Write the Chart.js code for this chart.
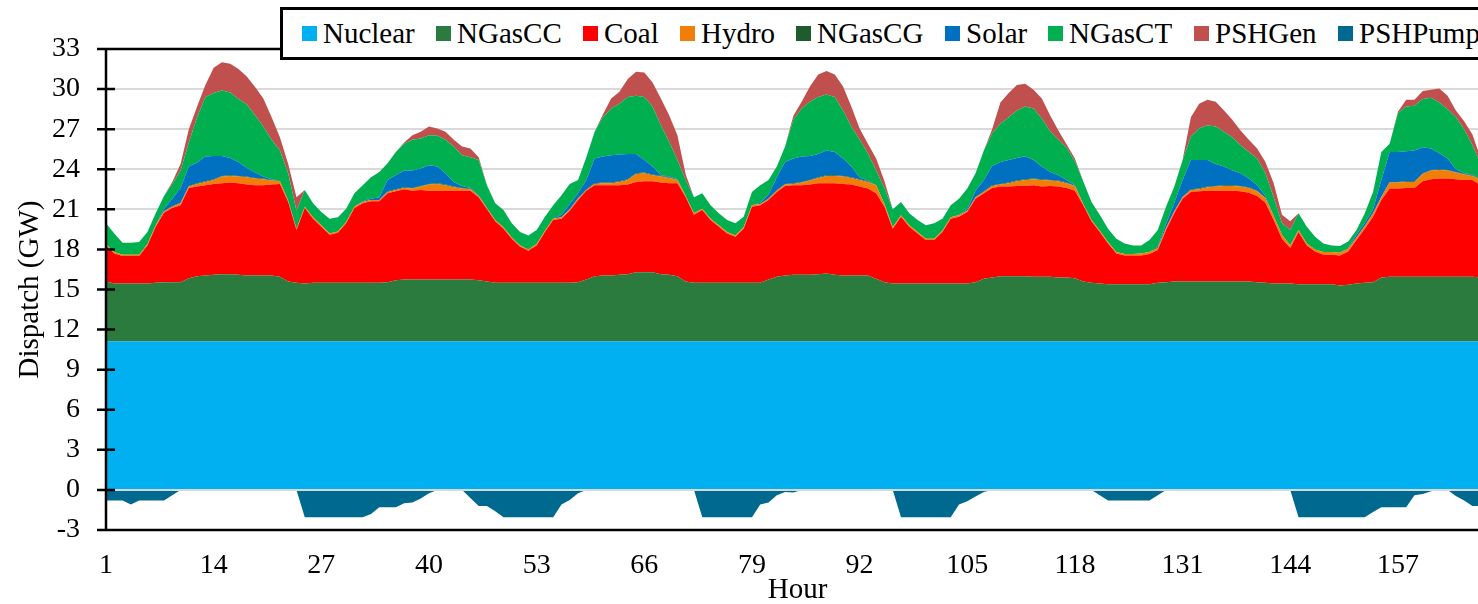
<!DOCTYPE html>
<html>
<head>
<meta charset="utf-8">
<title>Hourly dispatch</title>
<script src="https://cdn.jsdelivr.net/npm/chart.js@4.4.1/dist/chart.umd.min.js"></script>
<style>
  html, body { margin: 0; padding: 0; background: #fff; overflow: hidden; }
  #wrap { position: relative; width: 1500px; height: 620px; }
  #legend { position: absolute; left: 280px; top: 7px; width: 1300px; height: 47px;
            border: 3px solid #000; background: #fff; }
  .item { position: absolute; top: 0; height: 100%; white-space: nowrap;
          font: 29px 'Liberation Serif', 'Times New Roman', serif; color: #000; }
  .swatch { position: absolute; left: 0; top: 16px; width: 15px; height: 15px; }
  .label { position: absolute; left: 21px; top: 9px; line-height: 29px; }
</style>
</head>
<body>
<div id="wrap">
  <canvas id="chart" width="1500" height="620"></canvas>
  <div id="legend"></div>
</div>
<script>
// hour categories and the x tick labels that are shown
const hours = Array.from({length: 168}, (_, i) => i + 1);
const tickHours = [1, 14, 27, 40, 53, 66, 79, 92, 105, 118, 131, 144, 157];

// dispatch in GW, one row per day (24 h)
const nuclear = [
  11.1,11.1,11.1,11.1,11.1,11.1,11.1,11.1,11.1,11.1,11.1,11.1,11.1,11.1,11.1,11.1,11.1,11.1,11.1,11.1,11.1,11.1,11.1,11.1,
  11.1,11.1,11.1,11.1,11.1,11.1,11.1,11.1,11.1,11.1,11.1,11.1,11.1,11.1,11.1,11.1,11.1,11.1,11.1,11.1,11.1,11.1,11.1,11.1,
  11.1,11.1,11.1,11.1,11.1,11.1,11.1,11.1,11.1,11.1,11.1,11.1,11.1,11.1,11.1,11.1,11.1,11.1,11.1,11.1,11.1,11.1,11.1,11.1,
  11.1,11.1,11.1,11.1,11.1,11.1,11.1,11.1,11.1,11.1,11.1,11.1,11.1,11.1,11.1,11.1,11.1,11.1,11.1,11.1,11.1,11.1,11.1,11.1,
  11.1,11.1,11.1,11.1,11.1,11.1,11.1,11.1,11.1,11.1,11.1,11.1,11.1,11.1,11.1,11.1,11.1,11.1,11.1,11.1,11.1,11.1,11.1,11.1,
  11.1,11.1,11.1,11.1,11.1,11.1,11.1,11.1,11.1,11.1,11.1,11.1,11.1,11.1,11.1,11.1,11.1,11.1,11.1,11.1,11.1,11.1,11.1,11.1,
  11.1,11.1,11.1,11.1,11.1,11.1,11.1,11.1,11.1,11.1,11.1,11.1,11.1,11.1,11.1,11.1,11.1,11.1,11.1,11.1,11.1,11.1,11.1,11.1
];
const ngasCC = [
  4.5,4.35,4.35,4.35,4.35,4.35,4.4,4.45,4.45,4.45,4.75,4.9,4.95,5.0,5.05,5.05,5.0,4.95,4.95,4.95,4.95,4.85,4.5,4.4,
  4.35,4.4,4.4,4.4,4.4,4.4,4.4,4.4,4.4,4.4,4.45,4.6,4.65,4.65,4.65,4.65,4.65,4.65,4.65,4.65,4.65,4.6,4.5,4.4,
  4.4,4.4,4.4,4.4,4.4,4.4,4.4,4.4,4.4,4.45,4.65,4.9,4.95,4.95,5.0,5.05,5.2,5.2,5.2,5.05,5.0,4.9,4.5,4.4,
  4.4,4.4,4.4,4.4,4.4,4.4,4.4,4.4,4.65,4.85,4.95,5.0,5.0,5.0,5.05,5.1,5.0,4.95,4.95,4.95,4.95,4.7,4.45,4.35,
  4.35,4.35,4.35,4.35,4.35,4.35,4.35,4.35,4.35,4.45,4.7,4.8,4.9,4.9,4.9,4.9,4.85,4.85,4.85,4.8,4.8,4.75,4.5,4.4,
  4.35,4.3,4.3,4.3,4.3,4.3,4.3,4.4,4.45,4.5,4.5,4.5,4.5,4.5,4.5,4.5,4.5,4.5,4.5,4.45,4.4,4.35,4.35,4.35,
  4.3,4.3,4.3,4.3,4.3,4.2,4.25,4.35,4.4,4.45,4.8,4.85,4.85,4.85,4.85,4.85,4.85,4.85,4.85,4.85,4.85,4.85,4.8,4.7
];
const coal = [
  2.7,2.25,2.05,2.05,2.05,2.85,4.2,5.2,5.55,5.75,6.75,6.7,6.75,6.8,6.8,6.85,6.85,6.8,6.75,6.75,6.8,6.95,5.95,3.95,
  5.65,4.8,4.2,3.6,3.75,4.45,5.6,5.95,6.1,6.1,6.65,6.65,6.75,6.65,6.7,6.65,6.65,6.65,6.65,6.65,6.65,6.2,5.4,4.6,
  4.05,3.3,2.7,2.4,2.8,3.8,4.7,4.8,5.4,6.15,6.65,6.8,6.75,6.75,6.7,6.7,6.75,6.8,6.8,6.85,6.85,6.95,6.3,5.1,
  5.45,4.7,4.2,3.7,3.45,4.05,5.7,5.8,5.95,6.35,6.7,6.7,6.7,6.75,6.8,6.75,6.85,6.85,6.8,6.65,6.5,6.4,5.65,4.1,
  5.0,4.25,3.75,3.25,3.25,3.85,4.85,5.0,5.35,6.25,6.4,6.7,6.7,6.7,6.75,6.75,6.85,6.75,6.8,6.8,6.7,6.55,5.7,4.6,
  3.85,3.05,2.3,2.15,2.15,2.15,2.25,2.45,3.9,5.1,6.2,6.7,6.75,6.8,6.8,6.8,6.8,6.75,6.65,6.45,6.0,4.75,3.35,2.65,
  3.9,2.9,2.45,2.2,2.2,2.25,2.5,3.25,4.05,4.9,5.8,6.6,6.6,6.65,6.65,7.15,7.3,7.35,7.35,7.3,7.25,7.25,6.9,5.7
];
const hydro = [
  0.1,0.1,0.1,0.1,0.1,0.1,0.1,0.1,0.1,0.15,0.1,0.2,0.25,0.3,0.5,0.5,0.5,0.55,0.5,0.45,0.3,0.2,0.1,0.1,
  0.1,0.1,0.1,0.1,0.1,0.1,0.1,0.1,0.1,0.1,0.1,0.1,0.1,0.15,0.25,0.45,0.5,0.4,0.25,0.15,0.1,0.1,0.1,0.1,
  0.1,0.1,0.1,0.1,0.1,0.1,0.1,0.1,0.1,0.1,0.05,0.1,0.15,0.15,0.25,0.35,0.6,0.6,0.45,0.45,0.4,0.25,0.1,0.1,
  0.1,0.1,0.1,0.1,0.1,0.1,0.1,0.1,0.1,0.1,0.1,0.1,0.2,0.3,0.4,0.55,0.55,0.55,0.5,0.5,0.5,0.6,0.2,0.1,
  0.1,0.1,0.1,0.1,0.1,0.1,0.1,0.1,0.1,0.1,0.1,0.15,0.15,0.25,0.35,0.45,0.45,0.5,0.4,0.4,0.35,0.35,0.1,0.1,
  0.1,0.1,0.1,0.1,0.1,0.15,0.15,0.15,0.15,0.15,0.1,0.15,0.15,0.25,0.3,0.35,0.35,0.35,0.35,0.35,0.35,0.3,0.3,0.2,
  0.15,0.15,0.15,0.2,0.2,0.2,0.2,0.2,0.2,0.25,0.2,0.45,0.45,0.45,0.45,0.55,0.65,0.65,0.6,0.5,0.4,0.3,0.4,0.3
];
const ngasCG = [
  0,0,0,0,0,0,0,0,0.05,0.05,0.05,0.05,0.05,0.05,0.05,0.05,0.05,0.05,0.05,0.05,0.05,0,0,0,
  0,0,0,0,0,0,0,0,0,0,0.05,0.05,0.05,0.05,0.05,0.05,0.05,0.05,0.05,0.05,0.05,0,0,0,
  0,0,0,0,0,0,0,0,0,0.05,0.05,0.05,0.05,0.05,0.05,0.05,0.05,0.05,0.05,0.05,0.05,0,0,0,
  0,0,0,0,0,0,0,0,0,0.05,0.05,0.05,0.05,0.05,0.05,0.05,0.05,0.05,0.05,0.05,0.05,0,0,0,
  0,0,0,0,0,0,0,0,0,0,0.05,0.05,0.05,0.05,0.05,0.05,0.05,0.05,0.05,0.05,0.05,0,0,0,
  0,0,0,0,0,0,0,0,0,0,0.05,0.05,0.05,0.05,0.05,0.05,0.05,0.05,0.05,0.05,0,0,0,0,
  0,0,0,0,0,0,0,0,0,0,0.05,0.05,0.05,0.05,0.05,0.05,0.05,0.05,0.05,0.05,0.05,0.05,0,0
];
const solar = [
  0,0,0,0,0,0,0,0.2,0.55,1.1,1.45,1.55,1.85,1.75,1.5,1.3,1.05,0.65,0.4,0.15,0.05,0,0,0,
  0,0,0,0,0,0,0,0.05,0.1,0.2,0.85,1.05,1.25,1.3,1.3,1.4,1.25,0.85,0.35,0.15,0.05,0.05,0,0,
  0,0,0,0,0,0,0,0.2,0.4,0.35,0.7,1.85,1.95,2.05,2.0,1.9,1.45,0.95,0.6,0.05,0.05,0.05,0,0,
  0,0,0,0,0,0,0,0.1,0.3,0.95,1.65,1.85,1.9,1.8,1.75,1.85,1.75,1.3,0.8,0.15,0.05,0,0,0,
  0,0,0,0,0,0,0,0.05,0.1,0.5,0.85,1.45,1.65,1.7,1.7,1.73,1.4,0.95,0.6,0.4,0.2,0.05,0,0,
  0,0,0,0,0,0,0,0.1,0.3,0.65,1.25,2.2,2.15,2.0,1.65,1.4,1.1,0.95,0.65,0.4,0.15,0,0,0,
  0,0,0,0,0,0,0.05,0.2,0.25,0.3,1.25,2.25,2.25,2.25,2.3,1.95,1.6,1.2,0.85,0.2,0.05,0.05,0,0
];
const ngasCT = [
  1.55,1.4,0.9,0.9,0.95,0.9,0.9,0.95,1.1,1.3,1.8,3.4,4.45,4.7,4.9,4.9,4.7,4.75,4.3,3.75,2.95,2.3,2.05,1.35,
  1.25,1.05,1.0,1.1,1.05,1.0,1.0,1.2,1.6,1.9,1.25,1.75,2.0,2.3,2.25,2.25,2.3,2.5,2.65,2.3,2.3,2.65,1.7,1.25,
  1.3,1.05,1.0,1.05,1.05,1.05,1.0,1.45,1.5,1.0,1.7,2.0,2.95,3.5,3.8,4.25,4.35,4.7,4.5,3.75,2.6,1.45,1.2,1.2,
  1.15,1.0,0.9,0.9,0.9,0.8,1.0,1.3,1.1,0.8,1.15,2.9,3.6,4.05,4.25,4.2,4.1,3.6,3.0,2.8,2.05,1.1,1.2,1.35,
  1.0,0.9,0.9,1.0,1.15,0.9,0.9,1.2,1.55,1.3,2.2,2.45,2.85,3.2,3.55,3.72,3.85,3.6,3.05,2.65,2.4,1.8,1.7,1.35,
  1.2,1.0,1.0,0.8,0.65,0.6,0.9,1.25,1.3,1.2,1.5,1.75,2.35,2.6,2.8,2.6,2.5,2.1,2.0,2.0,1.7,1.4,0.85,1.15,
  1.25,1.25,0.95,0.65,0.5,0.5,0.5,0.35,0.7,1.3,2.1,0.6,2.9,3.35,3.35,3.6,3.8,3.8,3.7,3.9,3.3,2.2,1.2,1.2
];
const pshGen = [
  0,0,0,0,0,0,0,0,0.15,0.5,1.0,0.8,0.9,1.9,2.1,2.15,2.25,2.1,2.1,2.1,1.7,1.0,0.7,1.0,
  0,0,0,0,0,0,0,0,0,0,0,0,0.1,0.35,0.5,0.65,0.55,0.6,0.5,0.65,0.65,0.2,0,0,
  0,0,0,0,0,0,0,0,0,0,0,0,0.2,0.75,0.9,1.35,1.8,1.85,1.8,2.0,2.0,1.85,0.4,0,
  0,0,0,0,0,0,0,0,0,0,0,0.3,0.5,1.15,1.7,1.75,1.7,1.8,1.5,0.85,0.7,0.9,0.5,0,
  0,0,0,0,0,0,0,0,0,0,0,0.3,1.6,1.8,1.9,1.7,1.4,1.5,1.2,0.7,0.25,0.2,0,0,
  0,0,0,0,0,0,0,0,0,0,0,1.45,1.85,1.9,1.85,1.6,1.3,1.1,0.9,0.75,0.85,1.05,0.65,0.65,
  0,0,0,0,0,0,0,0,0,0,0,0,0.1,0.5,0.45,0.6,0.6,1.05,1.0,0.5,0.6,0.8,0.4,0.1
];
const pshPump = [
  -0.8,-0.8,-0.8,-1.1,-0.8,-0.8,-0.8,-0.8,-0.4,0,0,0,0,0,0,0,0,0,0,0,0,0,0,0,
  -2.05,-2.05,-2.05,-2.05,-2.05,-2.05,-2.05,-2.05,-1.8,-1.3,-1.3,-1.3,-1.0,-0.95,-0.65,-0.25,0,0,0,0,-0.6,-1.2,-1.2,-1.6,
  -2.05,-2.05,-2.05,-2.05,-2.05,-2.05,-2.05,-1.1,-0.75,-0.25,0,0,0,0,0,0,0,0,0,0,0,0,0,0,
  -2.05,-2.05,-2.05,-2.05,-2.05,-2.05,-2.05,-1.1,-0.95,-0.4,-0.15,-0.2,0,0,0,0,0,0,0,0,0,0,0,0,
  -2.05,-2.05,-2.05,-2.05,-2.05,-2.05,-2.05,-1.1,-0.85,-0.5,-0.15,0,0,0,0,0,0,0,0,0,0,0,0,0,
  -0.4,-0.8,-0.8,-0.8,-0.8,-0.8,-0.8,-0.4,0,0,0,0,0,0,0,0,0,0,0,0,0,0,0,0,
  -2.05,-2.05,-2.05,-2.05,-2.05,-2.05,-2.05,-2.05,-2.05,-1.65,-1.3,-1.3,-1.3,-1.3,-0.4,-0.3,-0.1,0,0,-0.45,-0.8,-1.2,-1.2,-1.2
];

const seriesNames = ['Nuclear', 'NGasCC', 'Coal', 'Hydro', 'NGasCG', 'Solar', 'NGasCT', 'PSHGen', 'PSHPump'];
const seriesData = [nuclear, ngasCC, coal, hydro, ngasCG, solar, ngasCT, pshGen, pshPump];
const seriesColors = ['#00B0F0', '#2B7B3E', '#FF0000', '#F27E0A', '#1E5C2E', '#0070C0', '#00B050', '#C0504D', '#00698F'];
// left edge of each legend marker, page pixels
const legendX = [302, 436, 583, 680, 796, 945, 1048, 1194, 1338];

const FONT = "'Liberation Serif', 'Times New Roman', serif";
Chart.defaults.font.family = FONT;
Chart.defaults.color = '#000';

// legend box drawn over the top of the plot, as in the original
const legendEl = document.getElementById('legend');
seriesNames.forEach((name, i) => {
  const item = document.createElement('div');
  item.className = 'item';
  item.style.left = (legendX[i] - 283) + 'px';
  item.innerHTML = '<span class="swatch" style="background:' + seriesColors[i] + '"></span>' +
                   '<span class="label">' + name + '</span>';
  legendEl.appendChild(item);
});

const datasets = seriesNames.map((name, i) => ({
  label: name,
  data: seriesData[i],
  backgroundColor: seriesColors[i],
  borderColor: 'rgba(0,0,0,0)',
  borderWidth: 0,
  pointRadius: 0,
  tension: 0,
  stack: name === 'PSHPump' ? 'pump' : 'gen',
  fill: (i === 0 || name === 'PSHPump') ? 'origin' : '-1'
}));

// axis lines, crossing tick marks and the zero line sit on top of the areas
const axisOverlay = {
  id: 'axisOverlay',
  afterDatasetsDraw(chart) {
    const {ctx, chartArea: a} = chart;
    const y = chart.scales.y;
    ctx.save();
    const y0 = y.getPixelForValue(0);
    ctx.strokeStyle = '#d9d9d9';
    ctx.lineWidth = 2;
    ctx.beginPath();
    ctx.moveTo(a.left, y0);
    ctx.lineTo(a.right, y0);
    ctx.stroke();

    ctx.strokeStyle = '#000';
    ctx.lineWidth = 2.5;
    ctx.beginPath();
    ctx.moveTo(a.left, a.top); ctx.lineTo(a.right, a.top);
    ctx.moveTo(a.left, a.top); ctx.lineTo(a.left, a.bottom);
    ctx.moveTo(a.left, a.bottom); ctx.lineTo(a.right, a.bottom);
    y.ticks.forEach(t => {
      const py = y.getPixelForValue(t.value);
      ctx.moveTo(a.left - 9, py);
      ctx.lineTo(a.left + 9, py);
    });
    ctx.stroke();
    ctx.restore();
  }
};

new Chart(document.getElementById('chart'), {
  type: 'line',
  data: { labels: hours, datasets: datasets },
  plugins: [axisOverlay],
  options: {
    responsive: false,
    animation: false,
    devicePixelRatio: 1,
    layout: { padding: { top: 49, right: 11, bottom: 0, left: 0 } },
    plugins: { legend: { display: false }, tooltip: { enabled: false } },
    elements: { line: { borderWidth: 0 } },
    scales: {
      x: {
        type: 'category',
        offset: false,
        grid: { display: false, drawTicks: false },
        border: { display: false },
        ticks: {
          autoSkip: false,
          maxRotation: 0,
          padding: 22,
          font: { size: 28, lineHeight: 1 },
          callback: function (value, index) {
            const h = hours[index];
            return tickHours.includes(h) ? String(h) : null;
          }
        },
        title: { display: true, text: 'Hour', font: { size: 29, lineHeight: 1 }, padding: { top: 0, bottom: 15 } },
        afterFit: s => { s.height = 90; }
      },
      y: {
        stacked: true,
        min: -3,
        max: 33,
        grid: {
          drawTicks: false,
          lineWidth: 2,
          color: c => (c.tick.value === 33 || c.tick.value === -3) ? 'rgba(0,0,0,0)' : '#d9d9d9'
        },
        border: { display: false },
        ticks: { stepSize: 3, padding: 26, font: { size: 28, lineHeight: 1 } },
        title: { display: true, text: 'Dispatch (GW)', font: { size: 29, lineHeight: 1 }, padding: { top: 16, bottom: 0 } },
        afterFit: s => { s.width = 106; }
      }
    }
  }
});
</script>
</body>
</html>
